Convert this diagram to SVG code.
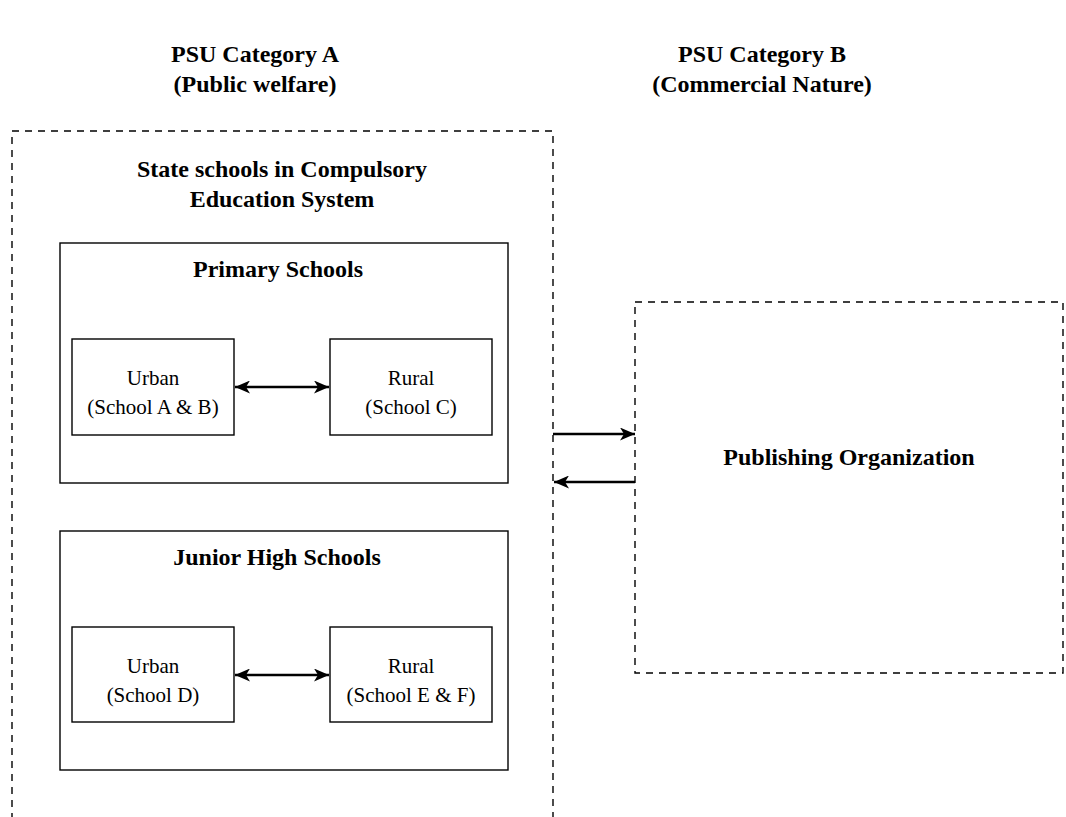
<svg xmlns="http://www.w3.org/2000/svg" width="1066" height="817" viewBox="0 0 1066 817">
<style>
.t{font-family:"Liberation Serif","Times New Roman",serif;fill:#000;text-anchor:middle}
.b{font-weight:bold;font-size:24px}
.r{font-size:21px}
.dash{fill:none;stroke:#000;stroke-width:1.4;stroke-dasharray:7 6}
.box{fill:#fff;stroke:#000;stroke-width:1.4}
.c{stroke:#000;stroke-width:2.4;fill:none}
</style>
<defs>
<marker id="ah" viewBox="0 0 15 13" refX="15" refY="6.5" markerWidth="15" markerHeight="13" markerUnits="userSpaceOnUse" orient="auto-start-reverse">
<path d="M0,0 L15,6.5 L0,13 L4,6.5 Z" fill="#000"/>
</marker>
</defs>
<rect width="1066" height="817" fill="#fff"/>
<g id="headerA"><text class="t b" x="255" y="62">PSU Category A</text><text class="t b" x="255" y="92">(Public welfare)</text></g>
<g id="headerB"><text class="t b" x="762" y="62">PSU Category B</text><text class="t b" x="762" y="92">(Commercial Nature)</text></g>
<g id="stateSchools">
<path class="dash" d="M12,820 L12,131 L553,131 L553,820"/>
<text class="t b" x="282" y="177">State schools in Compulsory</text>
<text class="t b" x="282" y="207">Education System</text>
</g>
<g id="primary"><rect class="box" x="60" y="243" width="448" height="240"/><text class="t b" x="278" y="277">Primary Schools</text></g>
<g id="pUrban"><rect class="box" x="72" y="339" width="162" height="96"/><text class="t r" x="153" y="385">Urban</text><text class="t r" x="153" y="414">(School A &amp; B)</text></g>
<g id="pRural"><rect class="box" x="330" y="339" width="162" height="96"/><text class="t r" x="411" y="385">Rural</text><text class="t r" x="411" y="414">(School C)</text></g>
<g id="junior"><rect class="box" x="60" y="531" width="448" height="239"/><text class="t b" x="277" y="565">Junior High Schools</text></g>
<g id="jUrban"><rect class="box" x="72" y="627" width="162" height="95"/><text class="t r" x="153" y="673">Urban</text><text class="t r" x="153" y="702">(School D)</text></g>
<g id="jRural"><rect class="box" x="330" y="627" width="162" height="95"/><text class="t r" x="411" y="673">Rural</text><text class="t r" x="411" y="702">(School E &amp; F)</text></g>
<g id="publishing"><rect class="dash" x="635" y="302" width="428" height="371"/><text class="t b" x="849" y="465">Publishing Organization</text></g>
<g id="connectors">
<line class="c" x1="235" y1="387" x2="329" y2="387" marker-start="url(#ah)" marker-end="url(#ah)"/>
<line class="c" x1="235" y1="675" x2="329" y2="675" marker-start="url(#ah)" marker-end="url(#ah)"/>
<line class="c" x1="553" y1="434" x2="635" y2="434" marker-end="url(#ah)"/>
<line class="c" x1="635" y1="482" x2="554" y2="482" marker-end="url(#ah)"/>
</g>
</svg>
